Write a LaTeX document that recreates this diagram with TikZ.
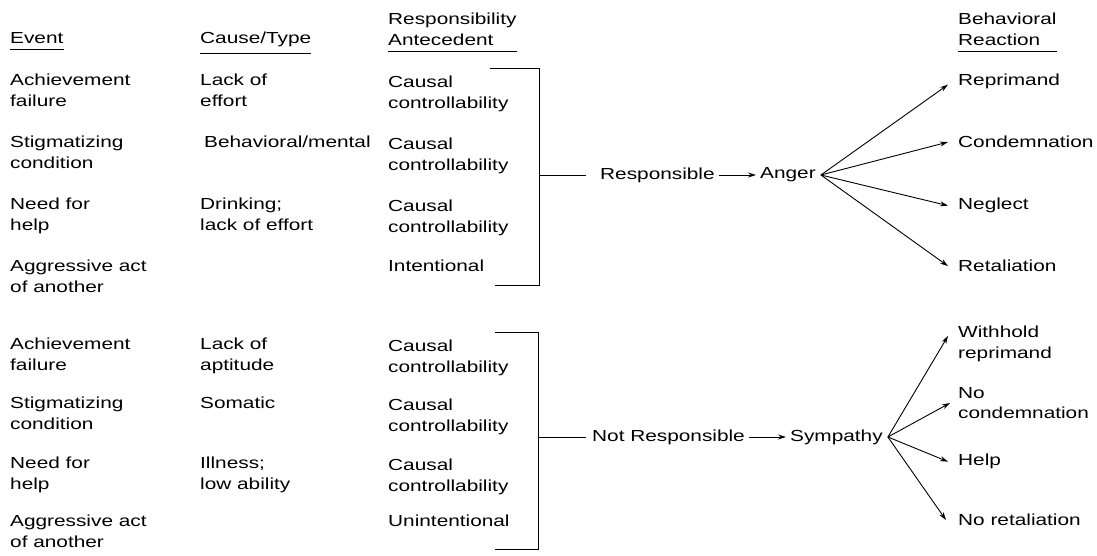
\documentclass[tikz,border=0pt]{standalone}
\usepackage{fontspec}
\setmainfont{Liberation Sans}[FakeStretch=1.3]
\usetikzlibrary{arrows.meta,calc}
\begin{document}
\begin{tikzpicture}[x=1pt,y=-1pt,
  txt/.style={anchor=north west,inner sep=0pt,align=left,font=\fontsize{16}{20.5}\selectfont},
  lbl/.style={inner sep=4pt,font=\fontsize{16}{20.5}\selectfont},
  ln/.style={line width=0.9pt},
  arr/.style={line width=0.9pt,-{Stealth[length=8pt,width=5pt]}},
  uline/.style={line width=0.8pt}]
\useasboundingbox (0,0) rectangle (1097,556);
% headers
\node[txt] (hEvent) at (10,32) {Event};
\node[txt] (hCause) at (200,32) {Cause/Type};
\node[txt] (hResp) at (388,13) {Responsibility\\Antecedent};
\node[txt] (hReact) at (958,13) {Behavioral\\Reaction};
\draw[uline] ($(hEvent.south west)+(0,6)$) coordinate (u1a) -- ($(hEvent.south east)+(0,6)$) coordinate (u1b);
\draw[uline] ($(hCause.south west)+(0,6)$) coordinate (u2a) -- ($(hCause.south east)+(0,6)$) coordinate (u2b);
\draw[uline] ($(hResp.south west)+(0,6)$) coordinate (u3a) -- ($(hResp.south east)+(0,6)$) coordinate (u3b);
\draw[uline] ($(hReact.south west)+(0,6)$) coordinate (u4a) -- ($(hReact.south east)+(0,6)$) coordinate (u4b);
% upper group
\node[txt] (e1) at (10,74) {Achievement\\failure};
\node[txt] (e2) at (10,136) {Stigmatizing\\condition};
\node[txt] (e3) at (10,198) {Need for\\help};
\node[txt] (e4) at (10,260) {Aggressive act\\of another};
\node[txt] (c1) at (200,74) {Lack of\\effort};
\node[txt] (c2) at (204,136) {Behavioral/mental};
\node[txt] (c3) at (200,198) {Drinking;\\lack of effort};
\node[txt] (r1) at (388,76) {Causal\\controllability};
\node[txt] (r2) at (388,138) {Causal\\controllability};
\node[txt] (r3) at (388,200) {Causal\\controllability};
\node[txt] (r4) at (388,260) {Intentional};
% lower group
\node[txt] (f1) at (10,338) {Achievement\\failure};
\node[txt] (f2) at (10,397) {Stigmatizing\\condition};
\node[txt] (f3) at (10,457) {Need for\\help};
\node[txt] (f4) at (10,515) {Aggressive act\\of another};
\node[txt] (d1) at (200,338) {Lack of\\aptitude};
\node[txt] (d2) at (200,397) {Somatic};
\node[txt] (d3) at (200,457) {Illness;\\low ability};
\node[txt] (s1) at (388,340) {Causal\\controllability};
\node[txt] (s2) at (388,399) {Causal\\controllability};
\node[txt] (s3) at (388,459) {Causal\\controllability};
\node[txt] (s4) at (388,515) {Unintentional};
% brackets
\coordinate (b1a) at (490,68);
\coordinate (b1b) at (539,68);
\coordinate (b1c) at (539,285);
\coordinate (b1d) at (495,285);
\coordinate (b1m) at (539,175);
\draw[ln] (b1a) -- (b1b) -- (b1c) -- (b1d);
\coordinate (b2a) at (495,332);
\coordinate (b2b) at (538,332);
\coordinate (b2c) at (538,549);
\coordinate (b2d) at (495,549);
\coordinate (b2m) at (538,437);
\draw[ln] (b2a) -- (b2b) -- (b2c) -- (b2d);
% middle chain upper
\node[lbl,anchor=west] (resp) at (596,175) {Responsible};
\node[lbl,anchor=west] (anger) at (756,175) {Anger};
\draw[ln] (b1m) -- ($(resp.west)+(-10,0)$);
\draw[arr] (resp.east) -- (anger.west);
\coordinate (af) at ($(anger.east)+(1,0)$);
% reactions upper
\node[txt] (a1) at (958,74) {Reprimand};
\node[txt] (a2) at (958,136) {Condemnation};
\node[txt] (a3) at (958,198) {Neglect};
\node[txt] (a4) at (958,260) {Retaliation};
\draw[arr] (af) -- ($(a1.west)+(-10,3)$);
\draw[arr] (af) -- ($(a2.west)+(-10,0)$);
\draw[arr] (af) -- ($(a3.west)+(-10,0)$);
\draw[arr] (af) -- ($(a4.west)+(-10,0)$);
% middle chain lower
\node[lbl,anchor=west] (nresp) at (588,437) {Not Responsible};
\node[lbl,anchor=west] (symp) at (786,437) {Sympathy};
\draw[ln] (b2m) -- ($(nresp.west)+(-2,0)$);
\draw[arr] (nresp.east) -- (symp.west);
\coordinate (sf) at ($(symp.east)+(1,0)$);
% reactions lower
\node[txt] (w1) at (958,326) {Withhold\\reprimand};
\node[txt] (w2) at (958,387) {No\\condemnation};
\node[txt] (w3) at (958,454) {Help};
\node[txt] (w4) at (958,514) {No retaliation};
\draw[arr] (sf) -- ($(w1.north west)+(-10,10)$);
\draw[arr] (sf) -- ($(w2.north west)+(-8,16)$);
\draw[arr] (sf) -- ($(w3.west)+(-10,0)$);
\draw[arr] (sf) -- ($(w4.west)+(-12,0)$);
\end{tikzpicture}
\end{document}
